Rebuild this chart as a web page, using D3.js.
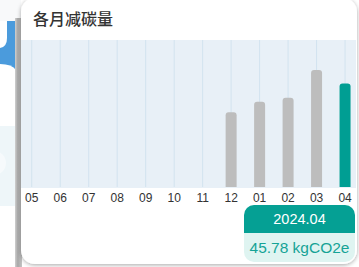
<!DOCTYPE html>
<html>
<head>
<meta charset="utf-8">
<script src="https://cdn.jsdelivr.net/npm/d3@7/dist/d3.min.js"></script>
<style>
html,body{margin:0;padding:0;background:#ffffff;overflow:hidden;}
svg{display:block;}
</style>
</head>
<body>
<script>
const title = "各月减碳量";
const months = ["05","06","07","08","09","10","11","12","01","02","03","04"];
const values = [0,0,0,0,0,0,0,33.0,37.7,39.5,51.7,45.78];
const selectedIndex = 11;
const tooltipPeriod = "2024.04";
const tooltipValue = "45.78 kgCO2e";
const yDomainMax = 65;

const W = 359, H = 267;
const svg = d3.select("body").append("svg").attr("width", W).attr("height", H);
const defs = svg.append("defs");

// background app pieces on the left
svg.append("rect").attr("x",0).attr("y",0).attr("width",21).attr("height",H).attr("fill","#f8f9fa");
svg.append("rect").attr("x",0).attr("y",21).attr("width",16).attr("height",60).attr("fill","#4b9bdc");
svg.append("path").attr("d","M0,21 H7 V38 Q7,47 0,48 Z").attr("fill","#ffffff");
svg.append("path").attr("d","M0,64 Q12,64 16,70 V81 H0 Z").attr("fill","#ffffff");
svg.append("rect").attr("x",0).attr("y",81).attr("width",16).attr("height",186).attr("fill","#ffffff");
svg.append("rect").attr("x",0).attr("y",126).attr("width",15).attr("height",80).attr("fill","#eef6f9");
svg.append("circle").attr("cx",-6).attr("cy",163).attr("r",12).attr("fill","#f6fafc");

const g1 = defs.append("linearGradient").attr("id","sh").attr("x1","0").attr("x2","1");
g1.append("stop").attr("offset","0").attr("stop-color","#cfcfcf");
g1.append("stop").attr("offset","0.4").attr("stop-color","#a8a8a8");
g1.append("stop").attr("offset","1").attr("stop-color","#c4c4c4");
svg.append("rect").attr("x",15).attr("y",18).attr("width",7).attr("height",H-18).attr("fill","url(#sh)");

// card
const f = defs.append("filter").attr("id","cs").attr("x","-10%").attr("y","-10%").attr("width","120%").attr("height","120%");
f.append("feDropShadow").attr("dx",0).attr("dy",1).attr("stdDeviation",2).attr("flood-color","#000").attr("flood-opacity",0.35);
svg.append("rect").attr("x",21).attr("y",-2).attr("width",336).attr("height",266).attr("rx",14)
  .attr("fill","#ffffff").attr("filter","url(#cs)");

// title
svg.append("text").attr("x",33).attr("y",25).text(title)
  .attr("font-family","'Noto Sans CJK SC', sans-serif").attr("font-size",16).attr("font-weight",500).attr("fill","#333333");

// plot
const plotTop = 40, plotBottom = 187, plotLeft = 21, plotRight = 356;
svg.append("rect").attr("x",plotLeft).attr("y",plotTop).attr("width",plotRight-plotLeft).attr("height",plotBottom-plotTop+1).attr("fill","#e8f0f7");

const x = d3.scaleBand().domain(months).range([17.5, 359.3]).paddingInner(0.614).paddingOuter(0.307);
const y = d3.scaleLinear().domain([0, yDomainMax]).range([plotBottom, plotTop]);

svg.append("g").selectAll("line").data(months).join("line")
  .attr("x1", d => x(d) + x.bandwidth()/2).attr("x2", d => x(d) + x.bandwidth()/2)
  .attr("y1", plotTop).attr("y2", plotBottom)
  .attr("stroke","#d2e3ef").attr("stroke-width",1);

function barPath(x0, w, yTop, yBot, r) {
  r = Math.min(r, (yBot - yTop), w/2);
  return `M${x0},${yBot} V${yTop+r} Q${x0},${yTop} ${x0+r},${yTop} H${x0+w-r} Q${x0+w},${yTop} ${x0+w},${yTop+r} V${yBot} Z`;
}
svg.append("g").selectAll("path").data(months.map((m,i)=>({m, v: values[i], i}))).join("path")
  .filter(d => d.v > 0)
  .attr("d", d => barPath(x(d.m), x.bandwidth(), y(d.v), plotBottom, 3))
  .attr("fill", d => d.i === selectedIndex ? "#009e93" : "#bdbdbd");

const axis = d3.axisBottom(x).tickSize(0).tickPadding(6);
const ax = svg.append("g").attr("transform", `translate(0,${plotBottom})`).call(axis);
ax.select(".domain").remove();
ax.selectAll("text").attr("font-family","'Liberation Sans', Arial, sans-serif").attr("font-size",12).attr("fill","#333333");

// tooltip
const tx = 244, ty = 205, tw = 111, th = 57, split = 233;
const clip = defs.append("clipPath").attr("id","tc");
clip.append("rect").attr("x",tx).attr("y",ty).attr("width",tw).attr("height",th).attr("rx",10);
const tg = svg.append("g").attr("clip-path","url(#tc)");
tg.append("rect").attr("x",tx).attr("y",ty).attr("width",tw).attr("height",split-ty).attr("fill","#05a094");
tg.append("rect").attr("x",tx).attr("y",split).attr("width",tw).attr("height",ty+th-split).attr("fill","#dff4f1");
svg.append("text").attr("x",tx+tw/2).attr("y",224).attr("text-anchor","middle").text(tooltipPeriod)
  .attr("font-family","'Liberation Sans', Arial, sans-serif").attr("font-size",14.5).attr("fill","#ffffff");
svg.append("text").attr("x",tx+tw/2).attr("y",253).attr("text-anchor","middle").text(tooltipValue)
  .attr("font-family","'Liberation Sans', Arial, sans-serif").attr("font-size",15.5).attr("fill","#15a396");
</script>
</body>
</html>
